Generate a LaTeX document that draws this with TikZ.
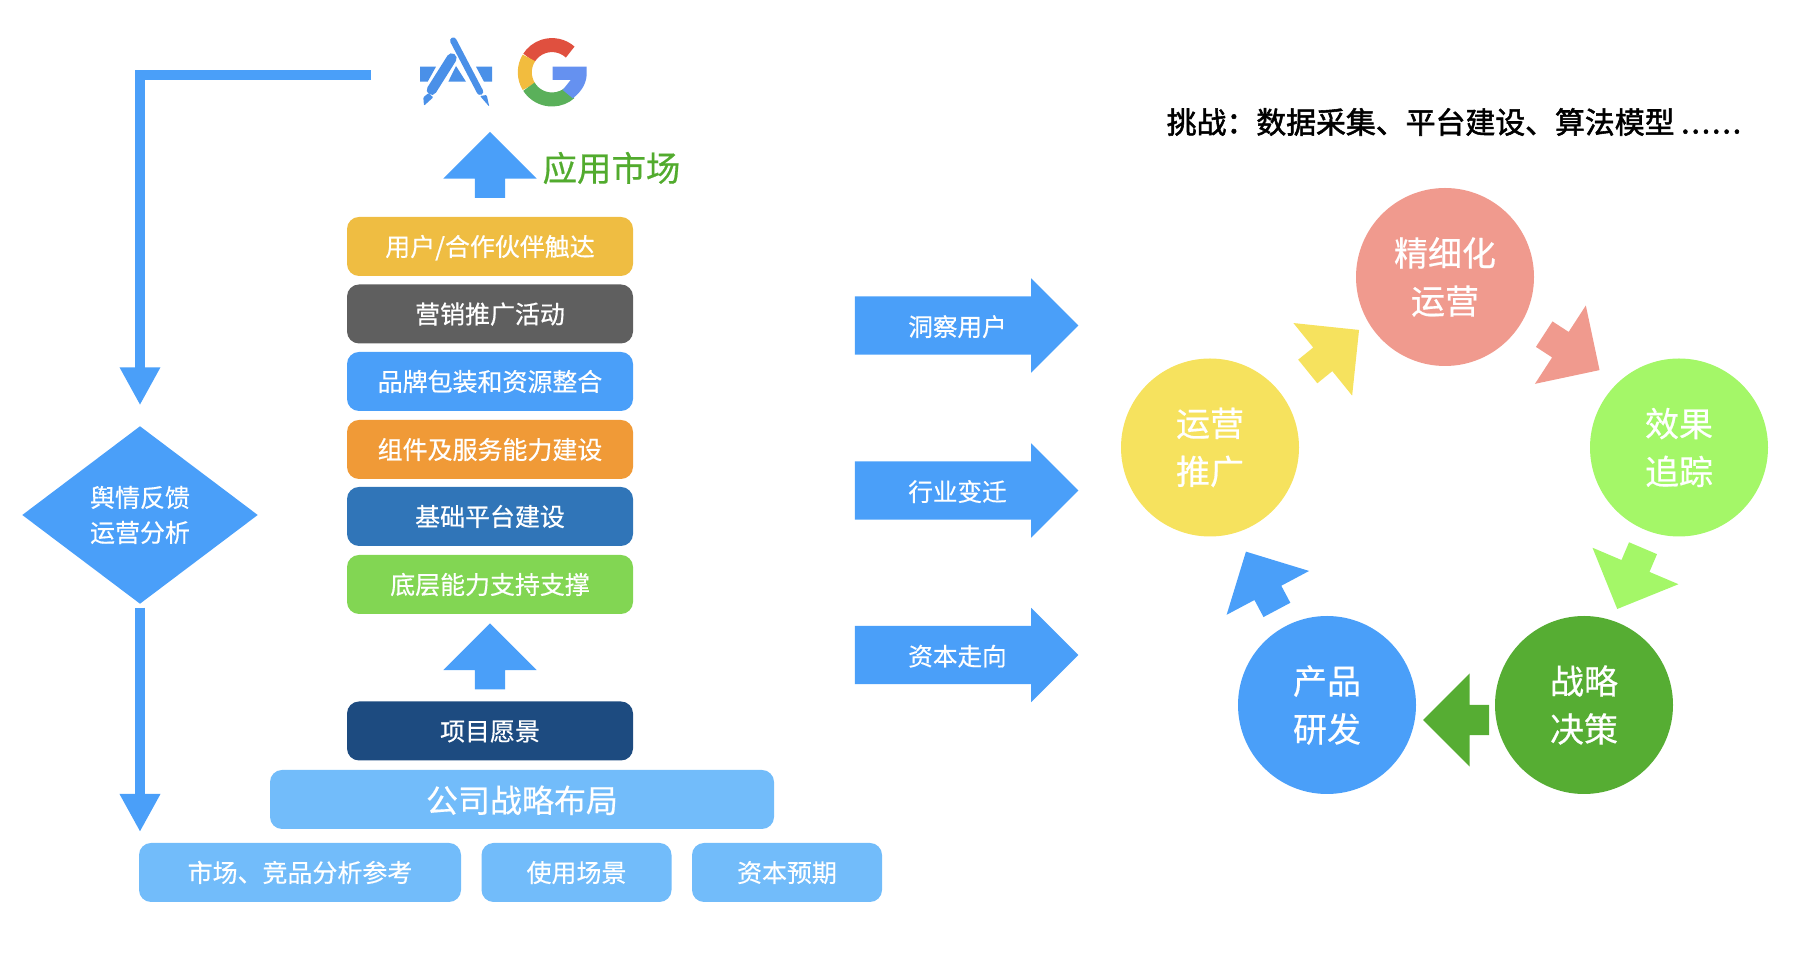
\documentclass[tikz,border=0pt]{standalone}
\usepackage{fontspec}
\setmainfont{Noto Sans CJK SC}[FakeBold=0.5]
\newfontfamily\headfont{Noto Sans CJK SC}[FakeBold=1.8]
\usetikzlibrary{arrows.meta,shapes.geometric,shapes.arrows}
\definecolor{flowblue}{HTML}{4A9FF9}
\definecolor{skyblue}{HTML}{72BCFA}
\definecolor{marketgreen}{HTML}{52AB2E}
\definecolor{iconblue}{HTML}{4A90E8}
\definecolor{reachgold}{HTML}{EFBD42}
\definecolor{promogray}{HTML}{5F5F5F}
\definecolor{serviceorange}{HTML}{F09A37}
\definecolor{platformblue}{HTML}{3075B8}
\definecolor{abilitygreen}{HTML}{82D653}
\definecolor{visionnavy}{HTML}{1D4B80}
\definecolor{refinepink}{HTML}{F09A8E}
\definecolor{effectlime}{HTML}{A4F768}
\definecolor{decidegreen}{HTML}{56AD33}
\definecolor{promoteyellow}{HTML}{F6E25E}
\definecolor{gred}{HTML}{E0503F}
\definecolor{gyellow}{HTML}{F2BC3E}
\definecolor{ggreen}{HTML}{5AB05A}
\definecolor{gblue}{HTML}{6591F0}
\newcommand{\widedots}{.\kern.02cm.\kern.02cm.\kern.02cm.\kern.02cm.\kern.02cm.}

\tikzset{% shared looks
  stagebox/.style ={draw=none, rounded corners=.12cm, text=white, inner sep=0pt,
    minimum width=2.86cm, minimum height=.59cm, text height=.26cm, text depth=.07cm,
    font=\fontsize{7.1}{9}\selectfont},
  basebox/.style={stagebox, fill=skyblue, minimum width=1.9cm},
  flowarrow/.style={single arrow, fill=flowblue, text=white, inner sep=0pt,
    minimum height=2.235cm, minimum width=.93cm, single arrow head extend=.18cm,
    text height=.39cm, text depth=.18cm, font=\fontsize{7}{9}\selectfont},
  stagearrow/.style={single arrow, inner sep=0pt, minimum height=.66cm, text height=.29cm,
    text depth=0pt, minimum width=.92cm, single arrow head extend=.315cm},
  loopcircle/.style={circle, text=white, inner sep=0pt, minimum width=1.78cm, align=center,
    font=\fontsize{9.67}{13.65}\selectfont},
  decision/.style={diamond, fill=flowblue, text=white, inner sep=0pt, aspect=1.33,
    minimum width=2.36cm, minimum height=1.78cm, align=center,
    font=\fontsize{7.1}{9.96}\selectfont},
  feedline/.style={flowblue, line width=.10cm, -{Triangle[width=.38cm,length=.38cm]}},
  gstroke/.style={line width=.14cm}
}

\begin{document}
\begin{tikzpicture}
  \useasboundingbox (0, 0) rectangle (18.18, 9.67);

  \node[stagebox, fill=reachgold] (reach) at (4.90, 7.205) {用户/合作伙伴触达};
  \node[stagebox, fill=promogray] (promo) at (4.90, 6.53) {营销推广活动};
  \node[stagebox, fill=flowblue] (brand) at (4.90, 5.855) {品牌包装和资源整合};
  \node[stagebox, fill=serviceorange] (service) at (4.90, 5.175) {组件及服务能力建设};
  \node[stagebox, fill=platformblue] (platform) at (4.90, 4.505) {基础平台建设};
  \node[stagebox, fill=abilitygreen] (ability) at (4.90, 3.825) {底层能力支持支撑};
  \node[stagebox, fill=visionnavy] (vision) at (4.90, 2.36) {项目愿景};
  \node[stagebox, fill=skyblue, minimum width=5.04cm, text height=.34cm, text depth=.08cm, font=\fontsize{9.1}{11}\selectfont] (strategy) at (5.22, 1.675) {公司战略布局};
  \node[basebox, minimum width=3.22cm] (market) at (3.00, 0.945) {市场、竞品分析参考};
  \node[basebox] (scene) at (5.765, 0.945) {使用场景};
  \node[basebox] (capital) at (7.87, 0.945) {资本预期};

  \node[stagearrow, fill=flowblue, rotate=90] (upper) at (4.90, 7.945) {};
  \node[stagearrow, fill=flowblue, rotate=90] (lower) at (4.90, 3.03) {};
  \node[text=marketgreen, font=\fontsize{9.8}{12}\selectfont] (store) at (6.115, 7.99) {应用市场};

  \node[decision] (feedback) at (1.40, 4.52) {舆情反馈\\运营分析};
  \coordinate (storeend) at (3.71, 8.915);
  \coordinate (baseend) at (1.40, 1.35);
  \draw[feedline, shorten >=.20cm] (storeend) -| (feedback.north);
  \draw[feedline, shorten <=.03cm] (feedback.south) -- (baseend);

  % app store icon
  \fill[iconblue] (4.20, 9.003) -- (4.36, 9.003) -- (4.277, 8.853) -- (4.20, 8.853) -- cycle;
  \fill[iconblue] (4.56, 9.01) -- (4.66, 8.853) -- (4.483, 8.853) -- cycle;
  \fill[iconblue] (4.76, 9.003) -- (4.92, 9.003) -- (4.92, 8.853) -- (4.84, 8.853) -- cycle;
  \draw[iconblue, line width=.10cm, line cap=round] (4.517, 9.087) -- (4.317, 8.77);
  \draw[iconblue, line width=.065cm, line cap=round] (4.533, 9.263) -- (4.80, 8.753);
  \fill[iconblue, rounded corners=.01cm] (4.233, 8.697) -- (4.283, 8.737) -- (4.333, 8.697) -- (4.24, 8.613) -- cycle;
  \fill[iconblue, rounded corners=.01cm] (4.80, 8.71) -- (4.867, 8.72) -- (4.893, 8.603) -- cycle;

  % google icon
  \coordinate (gcenter) at (5.52, 8.947);
  \draw[gstroke, gred] (gcenter) ++(48:.272) arc[start angle=48, end angle=148, radius=.272];
  \draw[gstroke, gyellow] (gcenter) ++(148:.272) arc[start angle=148, end angle=212, radius=.272];
  \draw[gstroke, ggreen] (gcenter) ++(212:.272) arc[start angle=212, end angle=312, radius=.272];
  \fill[gblue] (5.527, 9.003) -- (5.867, 9.003) -- (5.867, 8.92)
    .. controls (5.86, 8.82) and (5.80, 8.74) .. (5.727, 8.687) -- (5.627, 8.77) -- (5.707, 8.87) -- (5.527, 8.87) -- cycle;

  \node[flowarrow] (insight) at (9.52, 6.415) {\hspace*{.11cm}洞察用户};
  \node[flowarrow] (trend) at (9.52, 4.765) {\hspace*{.11cm}行业变迁};
  \node[flowarrow] (funds) at (9.52, 3.12) {\hspace*{.11cm}资本走向};

  \node[anchor=west, inner sep=0pt, font=\fontsize{8.5}{10}\selectfont\headfont] (challenge) at (11.66, 8.45) {挑战：数据采集、平台建设、算法模型 \widedots};

  \node[loopcircle, fill=refinepink] (refine) at (14.45, 6.90) {精细化\\运营};
  \node[loopcircle, fill=effectlime] (effect) at (16.79, 5.195) {效果\\追踪};
  \node[loopcircle, fill=decidegreen] (decide) at (15.84, 2.62) {战略\\决策};
  \node[loopcircle, fill=flowblue] (product) at (13.27, 2.62) {产品\\研发};
  \node[loopcircle, fill=promoteyellow] (promote) at (12.10, 5.195) {运营\\推广};

  \node[stagearrow, fill=promoteyellow, rotate=39] (a1) at (13.275, 6.115) {};
  \node[stagearrow, fill=refinepink, rotate=-33] (a2) at (15.655, 6.19) {};
  \node[stagearrow, fill=effectlime, rotate=-113] (a3) at (16.331, 3.954) {};
  \node[stagearrow, fill=decidegreen, rotate=180] (a4) at (14.636, 2.47) {};
  \node[stagearrow, fill=flowblue, rotate=118] (a5) at (12.65, 3.795) {};
\end{tikzpicture}
\end{document}
